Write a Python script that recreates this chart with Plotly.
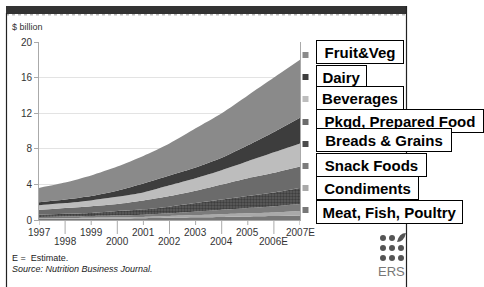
import plotly.graph_objects as go

years = [1997, 1998, 1999, 2000, 2001, 2002, 2003, 2004, 2005, 2006, 2007]
year_labels = ["1997", "1998", "1999", "2000", "2001", "2002", "2003", "2004", "2005", "2006E", "2007E"]

# series, bottom to top ($ billion)
meat = [0.12, 0.13, 0.15, 0.17, 0.20, 0.25, 0.30, 0.35, 0.40, 0.45, 0.50]
condiments = [0.08, 0.09, 0.10, 0.13, 0.15, 0.20, 0.25, 0.30, 0.35, 0.40, 0.50]
snack = [0.15, 0.18, 0.20, 0.20, 0.25, 0.30, 0.40, 0.50, 0.60, 0.70, 0.80]
breads = [0.25, 0.30, 0.35, 0.50, 0.60, 0.75, 0.95, 1.15, 1.35, 1.55, 1.80]
pkgd = [0.55, 0.65, 0.75, 0.80, 1.00, 1.20, 1.40, 1.70, 2.00, 2.20, 2.40]
beverages = [0.50, 0.55, 0.65, 0.80, 0.90, 1.20, 1.40, 1.60, 1.90, 2.30, 2.60]
dairy = [0.35, 0.40, 0.50, 0.70, 1.00, 1.10, 1.20, 1.40, 1.80, 2.30, 2.90]
fruitveg = [1.60, 1.90, 2.30, 2.70, 3.10, 3.60, 4.40, 5.00, 5.60, 6.10, 6.50]

series_names = ["Meat, Fish, Poultry", "Condiments", "Snack Foods", "Breads & Grains",
                "Pkgd, Prepared Food", "Beverages", "Dairy", "Fruit&Veg"]
series_vals = [meat, condiments, snack, breads, pkgd, beverages, dairy, fruitveg]
series_cols = ["#777777", "#a9a9a9", "#7b7b7b", "#4a4a4a", "#6b6b6b", "#bdbdbd", "#3d3d3d", "#8a8a8a"]

y_ticks = [0, 4, 8, 12, 16, 20]

W, H = 484, 287
L, R, T, B = 39, 300, 42, 220
FONT = "Liberation Sans, Arial, sans-serif"


def px(x):
    return (x - L) / (R - L)


def py(y):
    return (B - y) / (B - T)


fig = go.Figure()
for name, vals, col in zip(series_names, series_vals, series_cols):
    kw = {}
    if name == "Breads & Grains":
        kw["fillpattern"] = dict(shape=".", fgcolor="#1e1e1e", bgcolor="#5e5e5e", size=3, solidity=0.5)
    fig.add_trace(go.Scatter(
        x=years, y=vals, name=name, stackgroup="one", mode="lines",
        line=dict(width=0, shape="spline", smoothing=0.6), fillcolor=col,
        showlegend=False, hoverinfo="skip", **kw))

shapes = []
annotations = []

# frame
shapes.append(dict(type="rect", xref="paper", yref="paper", x0=px(6), x1=px(407), y0=py(6), y1=py(14),
                   fillcolor="#333333", line=dict(width=0), layer="above"))
shapes.append(dict(type="line", xref="paper", yref="paper", x0=px(6), x1=px(407), y0=py(14.8), y1=py(14.8),
                   line=dict(color="#bbbbbb", width=1.5, dash="dot")))
shapes.append(dict(type="line", xref="paper", yref="paper", x0=px(6.5), x1=px(6.5), y0=py(13), y1=py(290),
                   line=dict(color="#222222", width=1.2)))
shapes.append(dict(type="line", xref="paper", yref="paper", x0=px(406.5), x1=px(406.5), y0=py(6), y1=py(290),
                   line=dict(color="#222222", width=1.2)))

# x ticks and labels (staggered)
for i, (yr, lab) in enumerate(zip(years, year_labels)):
    odd = (i % 2 == 0)
    tick_len = 5 if odd else 14
    shapes.append(dict(type="line", xref="x", yref="paper", x0=yr, x1=yr, y0=0, y1=py(B + tick_len),
                       line=dict(color="#aaaaaa", width=1)))
    annotations.append(dict(x=yr, xref="x", y=py(232 if odd else 241), yref="paper", text=lab,
                            showarrow=False, xanchor="center", yanchor="middle",
                            font=dict(family=FONT, size=10, color="#333333")))

# legend markers and boxes
marker_y = [210, 188, 166, 144, 122, 99, 77, 55]
box_y = [211.5, 188, 164.5, 140, 121, 98, 77, 52]
box_w = [143, 99, 107, 132, 164, 84, 47, 84]
for name, col, my in zip(series_names, series_cols, marker_y):
    shapes.append(dict(type="rect", xref="paper", yref="paper", x0=px(302.5), x1=px(308.5),
                       y0=py(my - 3), y1=py(my + 3), fillcolor=col, line=dict(width=0)))
order = [7, 6, 5, 4, 3, 2, 1, 0]
for idx in order:
    annotations.append(dict(x=px(316), y=py(box_y[idx]), xref="paper", yref="paper",
                            text="<b>%s</b>" % series_names[idx],
                            showarrow=False, xanchor="left", yanchor="middle", align="center",
                            width=box_w[idx], height=20,
                            bordercolor="#000000", borderwidth=1, borderpad=1, bgcolor="#ffffff",
                            font=dict(family=FONT, size=15, color="#000000")))

# texts
annotations.append(dict(x=px(10), y=py(27), xref="paper", yref="paper", text="$ billion", showarrow=False,
                        xanchor="left", yanchor="middle",
                        font=dict(family=FONT, size=9, color="#333333")))
annotations.append(dict(x=px(10), y=py(258), xref="paper", yref="paper", text="E =  Estimate.", showarrow=False,
                        xanchor="left", yanchor="middle",
                        font=dict(family=FONT, size=9, color="#222222")))
annotations.append(dict(x=px(10), y=py(269), xref="paper", yref="paper",
                        text="<i>Source: Nutrition Business Journal.</i>", showarrow=False,
                        xanchor="left", yanchor="middle",
                        font=dict(family=FONT, size=9, color="#222222")))

# ERS logo
for cx in [383, 392, 401]:
    for cy in [238, 248, 258]:
        if cx == 401 and cy == 238:
            continue
        shapes.append(dict(type="circle", xref="paper", yref="paper", x0=px(cx - 3), x1=px(cx + 3),
                           y0=py(cy - 3), y1=py(cy + 3), fillcolor="#555555", line=dict(width=0)))
shapes.append(dict(type="path", xref="paper", yref="paper",
                   path="M %f %f Q %f %f %f %f Q %f %f %f %f Z" % (
                       px(397), py(242), px(399), py(233), px(406), py(233),
                       px(404), py(242), px(397), py(242)),
                   fillcolor="#555555", line=dict(width=0)))
annotations.append(dict(x=px(391), y=py(271), xref="paper", yref="paper", text="ERS", showarrow=False,
                        xanchor="center", yanchor="middle",
                        font=dict(family=FONT, size=13, color="#777777")))

fig.update_layout(
    width=W, height=H, margin=dict(l=L, r=W - R, t=T, b=H - B),
    paper_bgcolor="white", plot_bgcolor="white",
    shapes=shapes, annotations=annotations,
    xaxis=dict(range=[1997, 2007], showticklabels=False, ticks="", showgrid=False,
               showline=True, linecolor="#aaaaaa", linewidth=1, zeroline=False, fixedrange=True,
               automargin=False),
    yaxis=dict(range=[0, 20], tickvals=y_ticks, ticks="outside", ticklen=4, tickcolor="#aaaaaa",
               showgrid=True, gridcolor="#e3e3e3", gridwidth=1, showline=True, linecolor="#aaaaaa",
               mirror=True, zeroline=False, automargin=False,
               tickfont=dict(family=FONT, size=10, color="#333333"), fixedrange=True),
)

fig.write_html("out.html", config={"displayModeBar": False},
               post_script="document.body.style.margin='0px';document.body.style.overflow='hidden';")
